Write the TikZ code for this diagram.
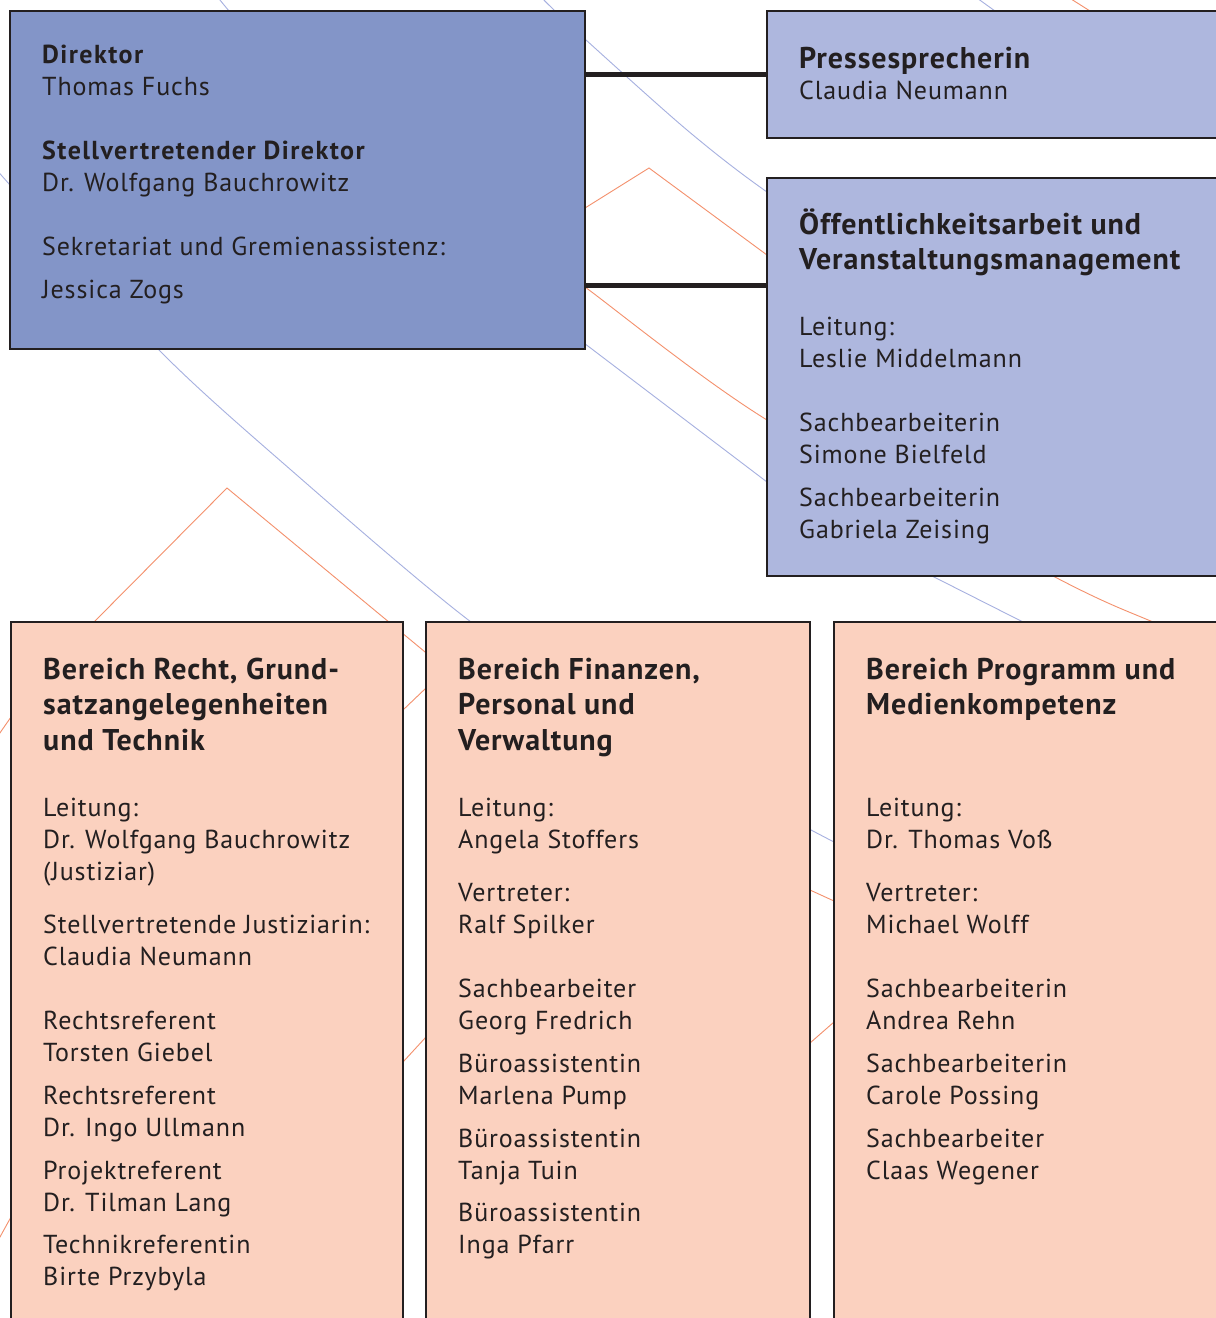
\documentclass[tikz,border=0pt]{standalone}
\usepackage{fontspec}
\setmainfont{PT Sans}
\newfontfamily\bodyf[LetterSpace=3.4]{PT Sans}
\newfontfamily\bdf[LetterSpace=5.5]{PT Sans}
\newfontfamily\headf[LetterSpace=3.2]{PT Sans}
\definecolor{dirfill}{RGB}{131,149,200}
\definecolor{bluefill}{RGB}{174,183,222}
\definecolor{rosefill}{RGB}{251,209,191}
\definecolor{lav}{RGB}{166,176,224}
\definecolor{orng}{RGB}{244,144,108}
\definecolor{ink}{RGB}{35,31,32}
\begin{document}
\begin{tikzpicture}[x=1pt,y=-1pt,
  box/.style={draw=ink, line width=2.2pt, inner sep=0pt, rectangle},
  dirbox/.style={box, fill=dirfill},
  bluebox/.style={box, fill=bluefill},
  rosebox/.style={box, fill=rosefill},
  conn/.style={draw=ink, line width=5pt},
  bgl/.style={draw=lav, line width=0.9pt},
  bgo/.style={draw=orng, line width=0.9pt},
  txt/.style={anchor=base west, inner sep=0pt, text=ink, font=\bodyf\fontsize{26}{30}\selectfont},
  bd/.style={txt, font=\bdf\fontsize{26}{30}\bfseries\selectfont},
  hd/.style={txt, font=\headf\fontsize{30}{34}\bfseries\selectfont}]
\clip (0,0) rectangle (1216,1318);
\fill[white] (0,0) rectangle (1216,1318);
% background lines
\draw[bgl] plot[smooth] coordinates {(-10,161) (10,185) (159,350) (291,470) (471,622) (640,735) (834,842) (950,895)};
\draw[bgl] (215,-6) -- (229,11) -- (580,340) -- (767,482) -- (932,576) -- (1023,622) -- (1100,660);
\draw[bgl] plot[smooth] coordinates {(535,-9) (555,11) (586,40) (687,130) (767,192) (900,280)};
\draw[bgl] (970,-7) -- (995,11) -- (1100,80);
\draw[bgo] (1060,-8) -- (1090,11) -- (1200,70);
\draw[bgo] (560,222) -- (585,208) -- (649,168) -- (767,255) -- (900,350);
\draw[bgo] plot[smooth] coordinates {(560,269) (585,287) (767,420) (1053,576) (1153,622) (1250,660)};
\draw[bgo] (-5,740) -- (11,717) -- (94,622) -- (227,488) -- (500,714);
\draw[bgo] (380,732) -- (403,710) -- (426,688) -- (450,665);
\draw[bgo] (380,1087) -- (403,1062) -- (426,1037) -- (450,1010);
\draw[bgo] (-5,1246) -- (11,1217) -- (30,1185);
\draw[bgo] (780,876) -- (810,890) -- (834,901) -- (860,913);
\draw[bgo] (780,1069) -- (810,1043) -- (834,1022) -- (860,1000);
% boxes
\node[dirbox, minimum width=575pt, minimum height=338pt] (dir) at (297.5,180) {};
\node[bluebox, minimum width=463pt, minimum height=127pt] (press) at (998.5,74.5) {};
\node[bluebox, minimum width=463pt, minimum height=398pt] (oeff) at (998.5,377) {};
\node[rosebox, minimum width=392pt, minimum height=718pt] (recht) at (207,981) {};
\node[rosebox, minimum width=384pt, minimum height=718pt] (fin) at (618,981) {};
\node[rosebox, minimum width=406pt, minimum height=718pt] (prog) at (1037,981) {};
% connectors
\draw[conn] (dir.east |- press.west) -- (press.west);
\draw[conn] (dir.east |- 0,285) -- ([yshift=92pt]oeff.west);
% director
\node[bd] (d1) at (42,63) {Direktor};
\node[txt] (d2) at (42,95) {Thomas Fuchs};
\node[bd] (d3) at (42,159) {Stellvertretender Direktor};
\node[txt] (d4) at (42,191) {Dr. Wolfgang Bauchrowitz};
\node[txt] (d5) at (42,255) {Sekretariat und Gremienassistenz:};
\node[txt] (d6) at (42,298) {Jessica Zogs};
% press
\node[hd] (p1) at (799,68) {Pressesprecherin};
\node[txt] (p2) at (799,99) {Claudia Neumann};
% oeff
\node[hd] (o1) at (799,234) {Öffentlichkeitsarbeit und};
\node[hd] (o2) at (799,269) {Veranstaltungsmanagement};
\node[txt] (o3) at (799,335) {Leitung:};
\node[txt] (o4) at (799,367) {Leslie Middelmann};
\node[txt] (o5) at (799,431) {Sachbearbeiterin};
\node[txt] (o6) at (799,463) {Simone Bielfeld};
\node[txt] (o7) at (799,506) {Sachbearbeiterin};
\node[txt] (o8) at (799,538) {Gabriela Zeising};
% recht
\node[hd] (r1) at (43,679) {Bereich Recht, Grund-};
\node[hd] (r2) at (43,714) {satzangelegenheiten};
\node[hd] (r3) at (43,750) {und Technik};
\node[txt] (r4) at (43,816) {Leitung:};
\node[txt] (r5) at (43,848) {Dr. Wolfgang Bauchrowitz};
\node[txt] (r6) at (43,880) {(Justiziar)};
\node[txt] (r7) at (43,933) {Stellvertretende Justiziarin:};
\node[txt] (r8) at (43,965) {Claudia Neumann};
\node[txt] (r9) at (43,1029) {Rechtsreferent};
\node[txt] (r10) at (43,1061) {Torsten Giebel};
\node[txt] (r11) at (43,1104) {Rechtsreferent};
\node[txt] (r12) at (43,1136) {Dr. Ingo Ullmann};
\node[txt] (r13) at (43,1179) {Projektreferent};
\node[txt] (r14) at (43,1211) {Dr. Tilman Lang};
\node[txt] (r15) at (43,1253) {Technikreferentin};
\node[txt] (r16) at (43,1285) {Birte Przybyla};
% fin
\node[hd] (f1) at (458,679) {Bereich Finanzen,};
\node[hd] (f2) at (458,714) {Personal und};
\node[hd] (f3) at (458,750) {Verwaltung};
\node[txt] (f4) at (458,816) {Leitung:};
\node[txt] (f5) at (458,848) {Angela Stoffers};
\node[txt] (f6) at (458,901) {Vertreter:};
\node[txt] (f7) at (458,933) {Ralf Spilker};
\node[txt] (f8) at (458,997) {Sachbearbeiter};
\node[txt] (f9) at (458,1029) {Georg Fredrich};
\node[txt] (f10) at (458,1072) {Büroassistentin};
\node[txt] (f11) at (458,1104) {Marlena Pump};
\node[txt] (f12) at (458,1147) {Büroassistentin};
\node[txt] (f13) at (458,1179) {Tanja Tuin};
\node[txt] (f14) at (458,1221) {Büroassistentin};
\node[txt] (f15) at (458,1253) {Inga Pfarr};
% prog
\node[hd] (g1) at (866,679) {Bereich Programm und};
\node[hd] (g2) at (866,714) {Medienkompetenz};
\node[txt] (g3) at (866,816) {Leitung:};
\node[txt] (g4) at (866,848) {Dr. Thomas Voß};
\node[txt] (g5) at (866,901) {Vertreter:};
\node[txt] (g6) at (866,933) {Michael Wolff};
\node[txt] (g7) at (866,997) {Sachbearbeiterin};
\node[txt] (g8) at (866,1029) {Andrea Rehn};
\node[txt] (g9) at (866,1072) {Sachbearbeiterin};
\node[txt] (g10) at (866,1104) {Carole Possing};
\node[txt] (g11) at (866,1147) {Sachbearbeiter};
\node[txt] (g12) at (866,1179) {Claas Wegener};
\end{tikzpicture}
\end{document}
